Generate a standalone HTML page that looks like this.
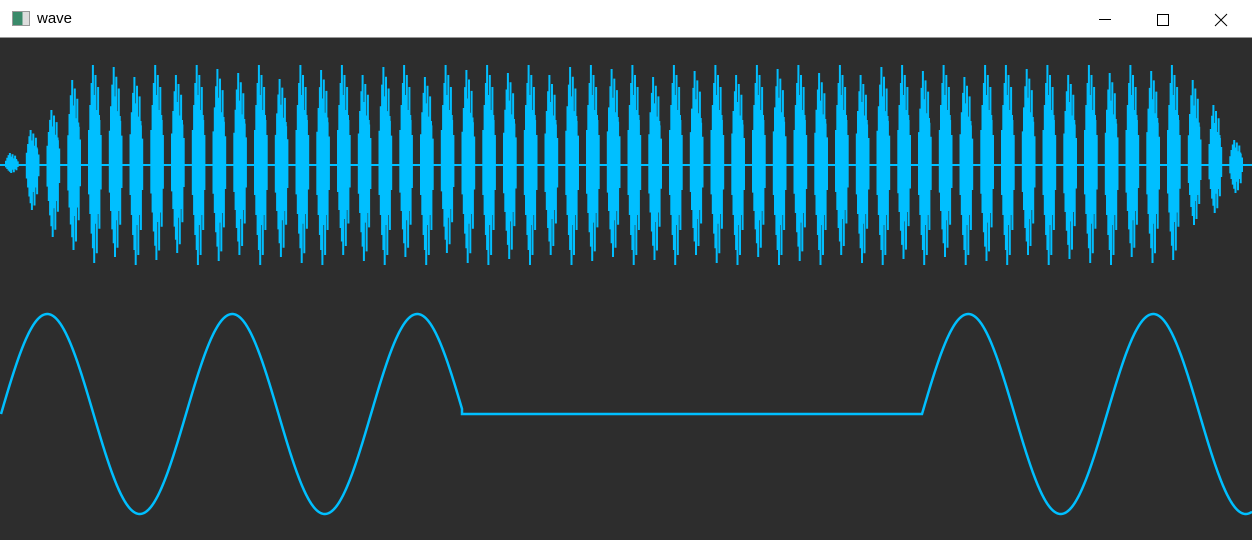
<!DOCTYPE html>
<html><head><meta charset="utf-8">
<style>
body{margin:0;width:1252px;height:540px;overflow:hidden;background:#2d2d2d;font-family:"Liberation Sans",sans-serif}
#title{position:absolute;left:0;top:0;width:1252px;height:38px;background:#fff;border-bottom:1px solid #999;box-sizing:border-box}
#title span{position:absolute;left:37px;top:10px;font-size:15px;color:#000}
#icon{position:absolute;left:12px;top:11px;width:16px;height:13px;border:1px solid #999;background:linear-gradient(90deg,#3a8a6a 60%,#ddd 60%)}
.ctl{position:absolute;top:0;width:58px;height:38px}
svg{position:absolute;left:0;top:0}
</style></head><body>
<div id="title">
<div id="icon"></div>
<span>wave</span>
<svg class="ctl" style="left:1076px"><line x1="23" y1="19.5" x2="35" y2="19.5" stroke="#000"/></svg>
<svg class="ctl" style="left:1134px"><rect x="23.5" y="14.5" width="11" height="11" fill="none" stroke="#000"/></svg>
<svg class="ctl" style="left:1192px"><path d="M23 14L35 26M35 14L23 26" stroke="#000"/></svg>
</div>
<svg id="chart" width="1252" height="540" style="top:0"></svg>
<script>
// top waveform: burst amplitudes (pixels up / down from baseline)
const burstUp=[12,35,55,85,100,98,88,100,90,100,96,92,100,86,100,95,100,90,98,100,88,100,95,100,92,100,90,98,100,96,100,88,100,94,100,90,100,96,100,92,100,90,98,100,94,100,88,100,100,96,100,90,100,92,100,94,100,85,60,25];
const burstDown=[-8,-45,-72,-85,-98,-92,-100,-95,-88,-100,-96,-90,-100,-92,-98,-100,-90,-96,-100,-92,-100,-88,-98,-100,-94,-100,-90,-100,-96,-92,-100,-95,-100,-90,-98,-100,-92,-100,-96,-100,-90,-98,-100,-94,-100,-92,-100,-96,-100,-90,-100,-94,-98,-100,-92,-98,-95,-60,-48,-28];
// bottom waveform: segments [startX, endX, amplitude (0 = flat), period]
const segStart=[1,462,922];
const segEnd=[462,922,1252];
const segAmp=[100,0,100];
const segPeriod=[185,185,185];
const topBase=165, botBase=414, color="#00bfff";
const NS="http://www.w3.org/2000/svg", svg=document.getElementById('chart');
const pattern=[0.35,0.6,0.82,1.0,0.7,0.9,0.55,0.78,0.45,0.3];
const pattern2=[0.3,0.5,0.7,0.85,1.0,0.6,0.9,0.4,0.65,0.25];
function bx(i){return 6+i*20.75;}
let d="M0 "+topBase+" L1252 "+topBase;
burstUp.forEach((u,i)=>{
  const x0=bx(i);
  for(let k=0;k<pattern.length;k++){
    const x=x0+k*1.3;
    d+=` M${x.toFixed(1)} ${topBase-u*pattern[k]} L${x.toFixed(1)} ${topBase-burstDown[i]*pattern2[k]}`;
  }
});
const topPath=document.createElementNS(NS,'path');
topPath.setAttribute('d',d);topPath.setAttribute('stroke',color);topPath.setAttribute('stroke-width','2');topPath.setAttribute('fill','none');


svg.appendChild(topPath);
burstUp.forEach((u,i)=>{
  const r=document.createElementNS(NS,'rect');
  r.setAttribute('x',bx(i)+2);r.setAttribute('width',9);
  r.setAttribute('y',topBase-u*0.5);r.setAttribute('height',u*0.5-burstDown[i]*0.5);
  r.setAttribute('fill',color);
  
  
  svg.appendChild(r);
});
let d2="";
segStart.forEach((s,j)=>{
  for(let x=s;x<=segEnd[j];x+=1){
    const y=botBase-segAmp[j]*Math.sin(2*Math.PI*(x-s)/segPeriod[j]);
    d2+=(x===s&&j===0?"M":"L")+x+" "+y.toFixed(2)+" ";
  }
});
const botPath=document.createElementNS(NS,'path');
botPath.setAttribute('d',d2);botPath.setAttribute('stroke',color);botPath.setAttribute('stroke-width','2.5');botPath.setAttribute('fill','none');


svg.appendChild(botPath);
</script>
</body></html>
